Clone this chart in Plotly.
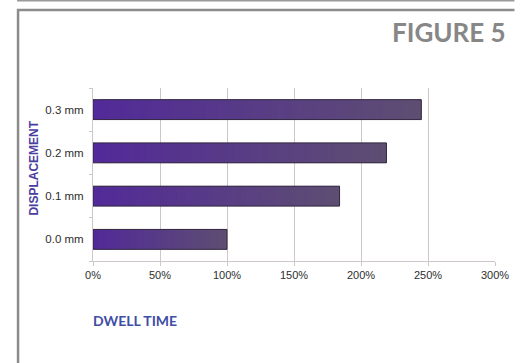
import plotly.graph_objects as go

# ---- data ----
categories = ["0.0 mm", "0.1 mm", "0.2 mm", "0.3 mm"]
dwell_time = [100, 184, 219, 245]
x_ticks = [0, 50, 100, 150, 200, 250, 300]
x_tick_labels = ["0%", "50%", "100%", "150%", "200%", "250%", "300%"]

# ---- layout constants ----
W, H = 521, 363
ML, MR, MT, MB = 93, 15, 88, 102
PW, PH = W - ML - MR, H - MT - MB

def px2paper_x(px):
    return (px - ML) / PW

def px2paper_y(py):
    return (H - MB - py) / PH

c0 = (82, 42, 153)
c1 = (94, 78, 114)

def lerp(t):
    return "rgb(%d,%d,%d)" % tuple(round(a + (b - a) * t) for a, b in zip(c0, c1))

N = 50
fig = go.Figure()
for k in range(N):
    col = lerp((k + 0.5) / N)
    end = min(k + 2, N)
    fig.add_bar(
        y=categories,
        x=[v * (end - k) / N for v in dwell_time],
        base=[v * k / N for v in dwell_time],
        orientation="h",
        width=0.46,
        marker=dict(color=col, line=dict(width=0)),
        showlegend=False,
        hoverinfo="skip",
    )
fig.add_bar(
    y=categories,
    x=dwell_time,
    orientation="h",
    width=0.46,
    marker=dict(color="rgba(0,0,0,0)", line=dict(color="#33283f", width=1)),
    showlegend=False,
)

grid = "#cdc7c7"
fig.update_layout(
    width=W,
    height=H,
    margin=dict(l=ML, r=MR, t=MT, b=MB),
    barmode="overlay",
    paper_bgcolor="white",
    plot_bgcolor="white",
    xaxis=dict(
        range=[0, 300],
        tickvals=x_ticks,
        ticktext=x_tick_labels,
        showgrid=True,
        gridcolor=grid,
        gridwidth=1,
        showline=True,
        linecolor=grid,
        ticks="outside",
        ticklen=4,
        tickcolor=grid,
        tickfont=dict(family="Liberation Sans", size=11, color="#2e2e2e"),
        zeroline=False,
        fixedrange=True,
    ),
    yaxis=dict(
        type="category",
        categoryorder="array",
        categoryarray=categories,
        range=[-0.5, 3.5],
        showgrid=False,
        showline=True,
        linecolor=grid,
        ticks="outside",
        tickson="boundaries",
        ticklen=3,
        tickcolor=grid,
        ticklabelstandoff=6,
        tickfont=dict(family="Liberation Sans", size=11.5, color="#2e2e2e"),
        fixedrange=True,
    ),
    annotations=[
        dict(
            text="FIGURE 5",
            xref="paper", yref="paper",
            x=px2paper_x(519), y=px2paper_y(32),
            xanchor="right", yanchor="middle",
            showarrow=False,
            font=dict(family="Lato", size=26, color="#878787", weight="bold"),
        ),
        dict(
            text="DISPLACEMENT",
            xref="paper", yref="paper",
            x=px2paper_x(32), y=px2paper_y(168),
            xanchor="center", yanchor="middle",
            textangle=-90,
            showarrow=False,
            font=dict(family="Liberation Sans", size=12, color="#4b3d9f", weight="bold"),
        ),
        dict(
            text="DWELL TIME",
            xref="paper", yref="paper",
            x=px2paper_x(91), y=px2paper_y(320),
            xanchor="left", yanchor="middle",
            showarrow=False,
            font=dict(family="Lato", size=14, color="#3f4ea5", weight="bold"),
        ),
    ],
    shapes=[
        dict(type="line", xref="paper", yref="paper",
             x0=px2paper_x(15), x1=px2paper_x(W + 5),
             y0=px2paper_y(0.8), y1=px2paper_y(0.8),
             line=dict(color="#999999", width=1.5)),
        dict(type="line", xref="paper", yref="paper",
             x0=px2paper_x(15), x1=px2paper_x(W + 5),
             y0=px2paper_y(10), y1=px2paper_y(10),
             line=dict(color="#8c8c8c", width=2.5)),
        dict(type="line", xref="paper", yref="paper",
             x0=px2paper_x(16), x1=px2paper_x(16),
             y0=px2paper_y(9), y1=px2paper_y(H + 5),
             line=dict(color="#8c8c8c", width=2.5)),
    ],
)

fig.write_html("out.html", config={"displayModeBar": False})
